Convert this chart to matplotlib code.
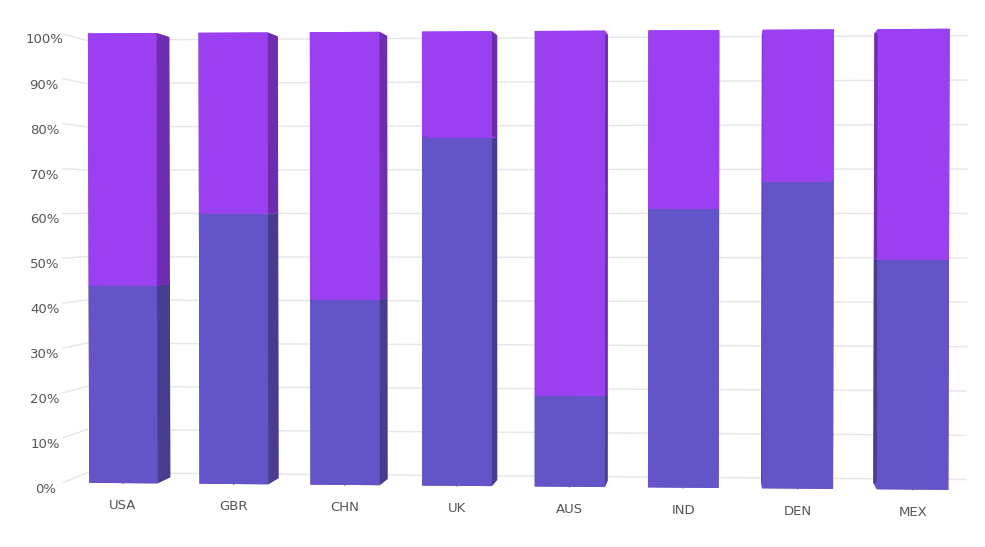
import numpy as np
import matplotlib

matplotlib.use("Agg")
import matplotlib.pyplot as plt
from matplotlib.ticker import FuncFormatter

countries = ["USA", "GBR", "CHN", "UK", "AUS", "IND", "DEN", "MEX"]
lower_share = [44, 60, 41, 77, 20, 61, 67, 50]
upper_share = [100 - v for v in lower_share]
pct_ticks = list(range(0, 101, 10))

LOWER_FRONT = "#6355c7"
LOWER_SIDE = "#463d8e"
UPPER_FRONT = "#9a40f0"
UPPER_SIDE = "#6e2db0"
TEXT = "#555555"
GRID = "#e6e6e6"


def face_colors(front, side, top, n):
    # bar3d face order: -z, +z, -y, +y, -x, +x
    return [front, top, front, front, side, side] * n


def main():
    fig = plt.figure(figsize=(9.85, 5.47), dpi=100)
    ax = fig.add_subplot(projection="3d", proj_type="persp", focal_length=0.35)
    scale = 2.56
    ax.set_position([0.5 - scale / 2 + 0.006, 0.5 - scale / 2 - 0.0065, scale, scale])

    n = len(countries)
    width = 0.62
    depth = 0.6
    xs = np.arange(n) - width / 2
    ys = np.zeros(n)

    ax.bar3d(xs, ys, np.zeros(n), width, depth, lower_share,
             color=face_colors(LOWER_FRONT, LOWER_SIDE, UPPER_FRONT, n),
             shade=False, linewidth=0)
    ax.bar3d(xs, ys, lower_share, width, depth, upper_share,
             color=face_colors(UPPER_FRONT, UPPER_SIDE, UPPER_FRONT, n),
             shade=False, linewidth=0)

    ax.set_xlim(-0.55, n - 0.45)
    ax.set_ylim(0, 1)
    ax.set_zlim(0, 100)
    ax.set_box_aspect((8, 0.9, 3.97), zoom=0.7)
    ax.view_init(elev=1, azim=-85.5)

    ax.set_xticks(range(n), countries)
    ax.set_yticks([])
    ax.set_zticks(pct_ticks)
    ax.zaxis.set_major_formatter(FuncFormatter(lambda v, _: f"{v:.0f}%"))
    ax.zaxis.set_ticks_position("lower")

    for axis in (ax.xaxis, ax.yaxis, ax.zaxis):
        axis.set_pane_color((1, 1, 1, 0))
        axis.pane.set_edgecolor((1, 1, 1, 0))
        axis.line.set_color((1, 1, 1, 0))
    ax.xaxis._axinfo["grid"].update(color=(1, 1, 1, 0))
    ax.yaxis._axinfo["grid"].update(color=(1, 1, 1, 0))
    ax.zaxis._axinfo["grid"].update(color=GRID, linewidth=1.0)
    ax.xaxis._axinfo["tick"].update(color=GRID)
    ax.zaxis._axinfo["tick"].update(inward_factor=0, outward_factor=0)

    ax.tick_params(axis="x", colors=TEXT, labelsize=9.5, pad=10)
    ax.tick_params(axis="z", colors=TEXT, labelsize=9.5, pad=2)

    fig.savefig("out.png", dpi=100)


if __name__ == "__main__":
    main()
